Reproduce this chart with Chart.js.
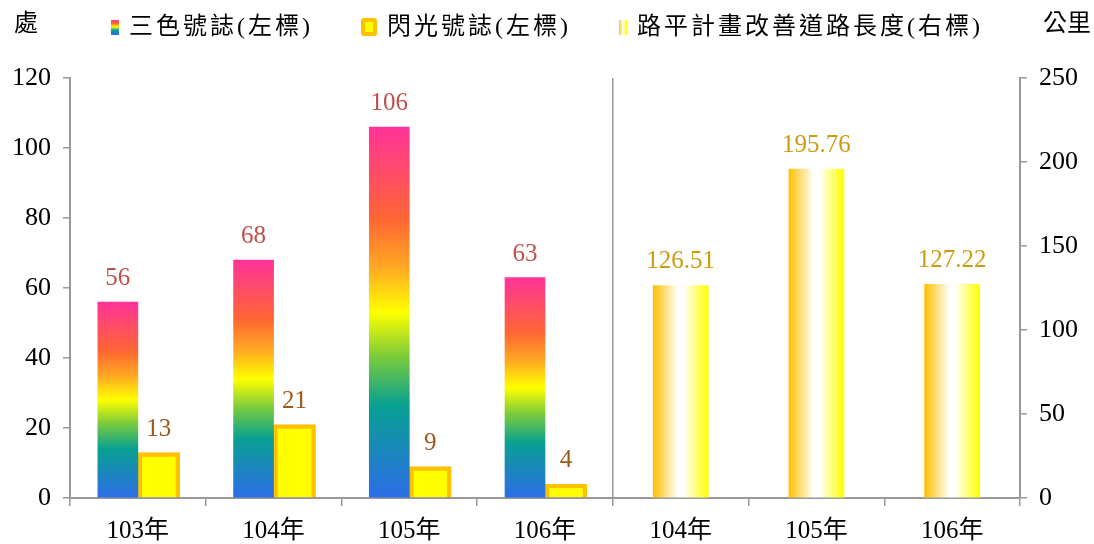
<!DOCTYPE html>
<html>
<head>
<meta charset="utf-8">
<script src="https://cdn.jsdelivr.net/npm/chart.js@4.4.1/dist/chart.umd.min.js"></script>
<style>
  html, body { margin: 0; padding: 0; background: #fff; }
</style>
</head>
<body>
<canvas id="chart" width="1094" height="544"></canvas>
<script>
// 資料
var years = ["103年", "104年", "105年", "106年", "104年", "105年", "106年"];
var signalCount = [56, 68, 106, 63, null, null, null];   // 三色號誌(左標)
var flashCount = [13, 21, 9, 4, null, null, null];       // 閃光號誌(左標)
var roadLength = [null, null, null, null, 126.51, 195.76, 127.22]; // 路平計畫改善道路長度(右標)
var seriesNames = ["三色號誌(左標)", "閃光號誌(左標)", "路平計畫改善道路長度(右標)"];

var serif = '"Liberation Serif", "Noto Sans CJK TC", serif';
var axisGray = "#999999";

// 彩虹漸層 (每根柱子自己的高度)
function rainbow(ctx) {
  var chart = ctx.chart;
  var y = chart.scales.y;
  if (!y || ctx.raw == null) return "#ff6633";
  var top = y.getPixelForValue(ctx.raw);
  var bottom = y.getPixelForValue(0);
  if (!isFinite(top) || !isFinite(bottom) || top === bottom) return "#ff6633";
  var g = chart.ctx.createLinearGradient(0, bottom, 0, top);
  g.addColorStop(0, "#2d6de8");
  g.addColorStop(0.25, "#08a092");
  g.addColorStop(0.38, "#7acb3c");
  g.addColorStop(0.5, "#ffff00");
  g.addColorStop(0.62, "#ffaa22");
  g.addColorStop(0.75, "#ff6633");
  g.addColorStop(1, "#ff3399");
  return g;
}

// 橫向 橘-白-黃 漸層
function roadFill(ctx) {
  var chart = ctx.chart;
  var x = chart.scales.x;
  if (!x || ctx.dataIndex == null) return "#ffc000";
  var cx = x.getPixelForValue(ctx.dataIndex);
  if (!isFinite(cx)) return "#ffc000";
  var g = chart.ctx.createLinearGradient(cx - 27.5, 0, cx + 27.5, 0);
  g.addColorStop(0, "#ffc000");
  g.addColorStop(0.45, "#ffffff");
  g.addColorStop(0.55, "#ffffff");
  g.addColorStop(1, "#ffff00");
  return g;
}

// 圖例小圖示
function makeIcon(w, h, draw) {
  var c = document.createElement("canvas");
  c.width = w; c.height = h;
  draw(c.getContext("2d"), w, h);
  return c;
}
var iconRainbow = makeIcon(8, 15, function (c, w, h) {
  var g = c.createLinearGradient(0, h, 0, 0);
  g.addColorStop(0, "#2d6de8");
  g.addColorStop(0.3, "#08a092");
  g.addColorStop(0.5, "#ffff00");
  g.addColorStop(0.75, "#ff6633");
  g.addColorStop(1, "#ff3399");
  c.fillStyle = g; c.fillRect(0, 0, w, h);
});
var iconFlash = makeIcon(16, 18, function (c, w, h) {
  c.fillStyle = "#ffc000";
  c.beginPath(); c.roundRect(0, 0, w, h, 3); c.fill();
  c.fillStyle = "#ffff00";
  c.fillRect(4, 4, w - 8, h - 8);
});
var iconRoad = makeIcon(8, 15, function (c, w, h) {
  var g = c.createLinearGradient(0, 0, w, 0);
  g.addColorStop(0, "#ffc000");
  g.addColorStop(0.45, "#ffffff");
  g.addColorStop(1, "#ffff00");
  c.fillStyle = g; c.fillRect(0, 0, w, h);
});
var icons = [iconRainbow, iconFlash, iconRoad];

// 自訂圖例 (置中, 與單位同一列)
var topLegend = {
  id: "topLegend",
  afterDraw: function (chart) {
    var ctx = chart.ctx;
    var gapIcon = 10, gapItem = 48, y = 27;
    ctx.save();
    ctx.font = "24px " + serif;
    ctx.letterSpacing = "3px";
    var widths = seriesNames.map(function (t) { return ctx.measureText(t).width; });
    var total = 0;
    for (var i = 0; i < 3; i++) total += icons[i].width + gapIcon + widths[i] + (i < 2 ? gapItem : 0);
    var x = chart.width / 2 - total / 2;
    ctx.fillStyle = "#000";
    ctx.textBaseline = "middle";
    ctx.textAlign = "left";
    for (var k = 0; k < 3; k++) {
      var ic = icons[k];
      ctx.drawImage(ic, x, y - ic.height / 2);
      x += ic.width + gapIcon;
      ctx.fillText(seriesNames[k], x, y + 1);
      x += widths[k] + gapItem;
    }
    ctx.letterSpacing = "0px";
    ctx.restore();
  }
};

// 數值標籤
var valueLabels = {
  id: "valueLabels",
  afterDatasetsDraw: function (chart) {
    var ctx = chart.ctx;
    chart.data.datasets.forEach(function (ds, i) {
      var meta = chart.getDatasetMeta(i);
      meta.data.forEach(function (bar, j) {
        var v = ds.data[j];
        if (v == null) return;
        ctx.save();
        ctx.font = "25px " + serif;
        ctx.fillStyle = ds.labelColor;
        ctx.textAlign = "center";
        ctx.textBaseline = "alphabetic";
        ctx.fillText(ds.labelFormat(v), bar.x, bar.y - 17);
        ctx.restore();
      });
    });
  }
};

// 單位 處 / 公里
var unitLabels = {
  id: "unitLabels",
  afterDraw: function (chart) {
    var ctx = chart.ctx;
    ctx.save();
    ctx.font = "24px " + serif;
    ctx.fillStyle = "#000";
    ctx.textBaseline = "middle";
    ctx.textAlign = "left";
    ctx.fillText("處", 14, 25);
    ctx.textAlign = "right";
    ctx.fillText("公里", 1091, 25);
    ctx.restore();
  }
};

var ctx = document.getElementById("chart").getContext("2d");
new Chart(ctx, {
  type: "bar",
  data: {
    labels: years,
    datasets: [
      {
        label: seriesNames[0],
        data: signalCount,
        yAxisID: "y",
        backgroundColor: rainbow,
        borderWidth: 0,
        barThickness: 40,
        labelColor: "#c0504d",
        labelFormat: function (v) { return String(v); }
      },
      {
        label: seriesNames[1],
        data: flashCount,
        yAxisID: "y",
        backgroundColor: "#ffff00",
        borderColor: "#ffc000",
        borderWidth: 4.5,
        barThickness: 42,
        labelColor: "#a0581a",
        labelFormat: function (v) { return String(v); }
      },
      {
        label: seriesNames[2],
        data: roadLength,
        yAxisID: "y1",
        backgroundColor: roadFill,
        borderWidth: 0,
        barThickness: 55,
        labelColor: "#cc9c10",
        labelFormat: function (v) { return v.toFixed(2); }
      }
    ]
  },
  options: {
    responsive: false,
    devicePixelRatio: 1,
    animation: false,
    skipNull: true,
    layout: { padding: { top: 78, left: 0, right: 0, bottom: 0 } },
    plugins: {
      tooltip: { enabled: false },
      legend: { display: false }
    },
    scales: {
      x: {
        grid: {
          offset: true,
          drawOnChartArea: true,
          color: function (c) { return c.index === 4 ? axisGray : "rgba(0,0,0,0)"; },
          tickColor: axisGray,
          tickLength: 8,
          lineWidth: 1.5
        },
        border: { color: axisGray, width: 2 },
        ticks: { font: { size: 25, family: serif }, color: "#000", padding: 10 },
        afterFit: function (s) { s.height = 46; }
      },
      y: {
        position: "left",
        min: 0, max: 120,
        ticks: { stepSize: 20, font: { size: 26, family: serif }, color: "#000", padding: 12 },
        grid: { drawOnChartArea: false, tickLength: 7, color: axisGray, lineWidth: 1.5 },
        border: { color: axisGray, width: 2 },
        afterFit: function (s) { s.width = 70; }
      },
      y1: {
        position: "right",
        min: 0, max: 250,
        ticks: { stepSize: 50, font: { size: 26, family: serif }, color: "#000", padding: 12 },
        grid: { drawOnChartArea: false, tickLength: 7, color: axisGray, lineWidth: 1.5 },
        border: { color: axisGray, width: 2 },
        afterFit: function (s) { s.width = 74; }
      }
    }
  },
  plugins: [valueLabels, unitLabels, topLegend]
});
</script>
</body>
</html>
